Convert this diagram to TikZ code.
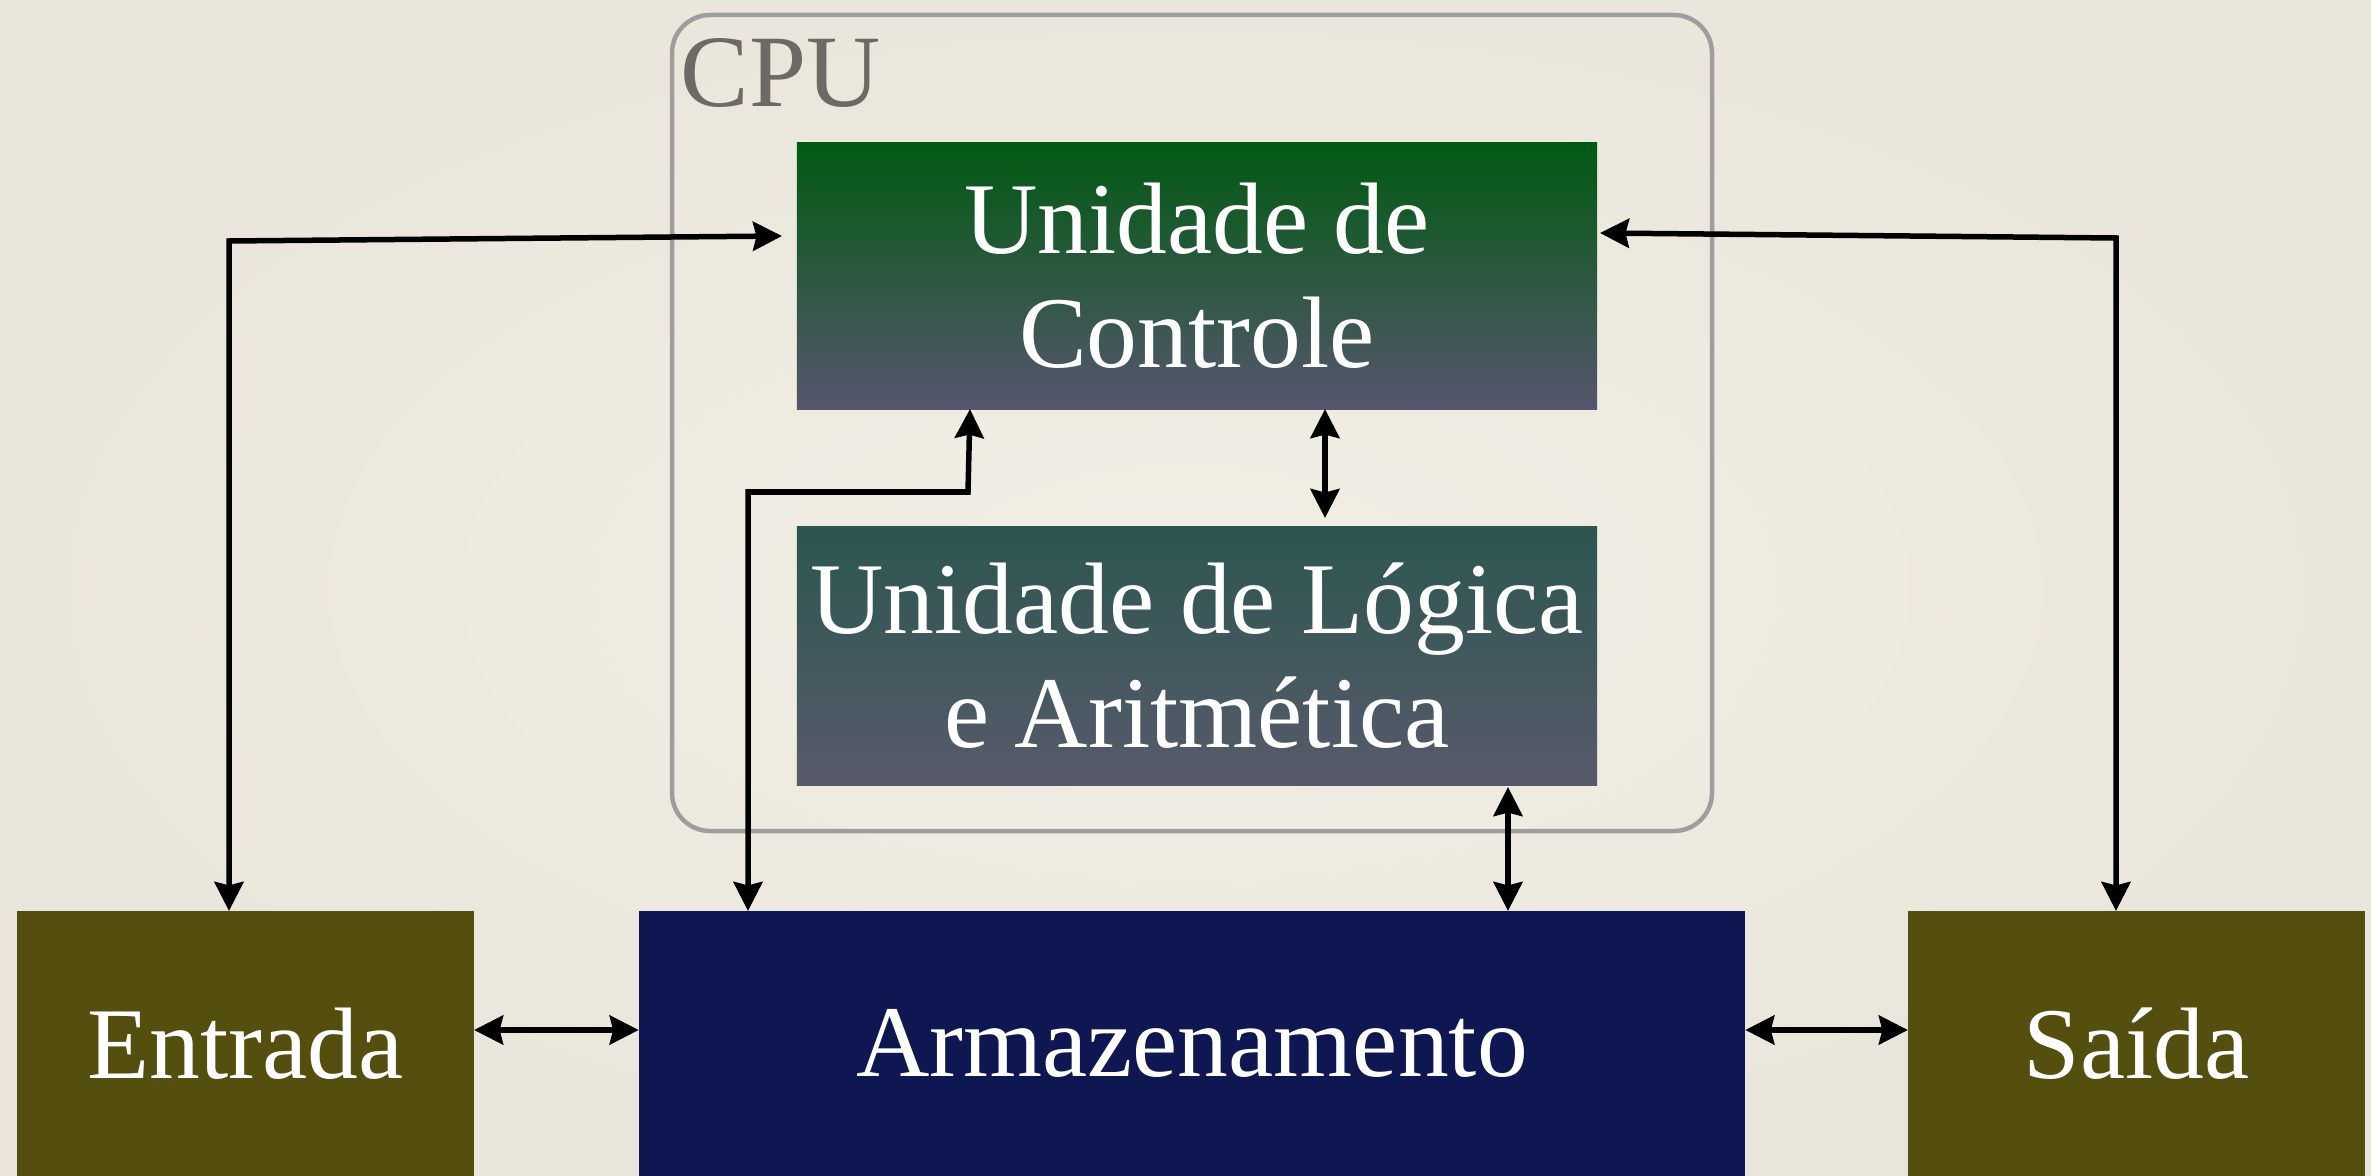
\documentclass[tikz,border=0pt]{standalone}
\usepackage{fontspec}
\setmainfont{Liberation Serif}
\usetikzlibrary{arrows.meta}
\definecolor{bgin}{HTML}{F1EFE5}
\definecolor{bgout}{HTML}{EAE6DC}
\definecolor{cpuline}{HTML}{9E9E9E}
\definecolor{cputext}{HTML}{6B6A64}
\definecolor{ctrltop}{HTML}{015A12}
\definecolor{ctrlbot}{HTML}{56566E}
\definecolor{alutop}{HTML}{2C5650}
\definecolor{alubot}{HTML}{585A6B}
\definecolor{olive}{HTML}{544F0E}
\definecolor{navy}{HTML}{0F1752}
\begin{document}
\begin{tikzpicture}[x=0.01cm,y=-0.01cm,
  box/.style={inner sep=0pt, outer sep=0pt, text=white, align=center,
    font=\fontsize{28.9pt}{32.4pt}\selectfont},
  tip/.tip={Stealth[length=0.29cm,width=0.29cm,inset=0.035cm]},
  conn/.style={line width=0.055cm, black, {tip}-{tip}},
]
\useasboundingbox (0,0) rectangle (2371,1176);
\shade[inner color=bgin, outer color=bgout] (0,0) rectangle (2371,1176);

% CPU frame
\draw[cpuline, line width=0.045cm, rounded corners=0.38cm] (672,15) rectangle (1712,831);
\node[anchor=base west, inner sep=0pt, text=cputext,
  font=\fontsize{29.2pt}{32.4pt}\selectfont] (cpu) at (680,107) {CPU};

% boxes
\node[box, minimum width=8cm, minimum height=2.66cm,
  top color=ctrltop, bottom color=ctrlbot] (ctrl) at (1197,276) {Unidade de\\Controle};
\node[box, minimum width=8cm, minimum height=2.58cm,
  top color=alutop, bottom color=alubot] (alu) at (1197,656) {Unidade de Lógica\\e Aritmética};
\node[box, minimum width=4.57cm, minimum height=2.65cm, fill=olive] (entrada) at (245.5,1043.5) {Entrada};
\node[box, minimum width=11.06cm, minimum height=2.65cm, fill=navy] (arm) at (1192,1043.5) {Armazenamento};
\node[box, minimum width=4.57cm, minimum height=2.65cm, fill=olive] (saida) at (2136.5,1043.5) {Saída};

% helper coordinates
\coordinate (l1) at (229,241);
\coordinate (l2) at (782,236);
\coordinate (r1) at (2116,238);
\coordinate (r2) at (1600,233);
\coordinate (m1) at (1325,518);
\coordinate (m2) at (1508,0);
\coordinate (b1) at (748,492);
\coordinate (b2) at (968,492);
\coordinate (b3) at (970,0);
\coordinate (h) at (0,1030);

% connectors
\draw[conn] (entrada.north -| l1) -- (l1) -- (l2);
\draw[conn] (saida.north -| r1) -- (r1) -- (r2);
\draw[conn] (ctrl.south -| m1) -- (m1);
\draw[conn] (alu.south -| m2) ++(0,2) -- (arm.north -| m2);
\draw[conn] (arm.north -| b1) -- (b1) -- (b2) -- (ctrl.south -| b3);
\draw[conn] (entrada.east |- h) -- (arm.west |- h);
\draw[conn] (arm.east |- h) -- (saida.west |- h);
\end{tikzpicture}
\end{document}
